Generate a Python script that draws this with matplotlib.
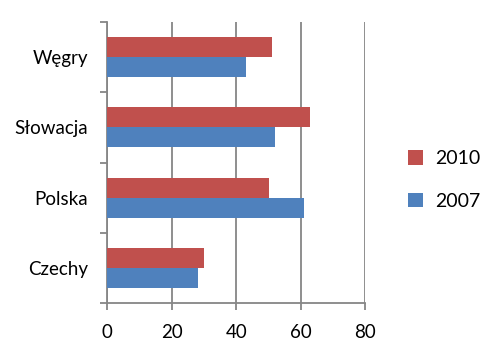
import matplotlib
matplotlib.use("Agg")
import matplotlib.pyplot as plt
import numpy as np

categories = ["Czechy", "Polska", "Słowacja", "Węgry"]
values_2007 = [28, 61, 52, 43]
values_2010 = [30, 50, 63, 51]
xticks = [0, 20, 40, 60, 80]

RED = "#C0504D"
BLUE = "#4F81BD"
GRID = "#868686"

plt.rcParams['font.family'] = ['Lato', 'DejaVu Sans']

fig = plt.figure(figsize=(4.89, 3.55), dpi=100)
W, H = 489, 355
left, right, top, bottom = 107.3, 365.3, 21.7, 303.3
ax = fig.add_axes([left / W, 1 - bottom / H, (right - left) / W, (bottom - top) / H])

y = np.arange(len(categories))
h = 0.282
ax.barh(y + h / 2, values_2010, height=h, color=RED, label="2010", zorder=3)
ax.barh(y - h / 2, values_2007, height=h, color=BLUE, label="2007", zorder=3)

ax.set_xlim(0, 80)
ax.set_ylim(-0.5, len(categories) - 0.5)
ax.set_xticks(xticks)
ax.set_xticklabels([str(t) for t in xticks])
ax.set_yticks(y)
ax.set_yticklabels(categories)
ax.set_yticks(np.arange(-0.5, len(categories), 1.0), minor=True)

ax.grid(axis="x", color=GRID, linewidth=1.3, zorder=0)
ax.grid(axis="y", visible=False)
for s in ["top", "right"]:
    ax.spines[s].set_visible(False)
for s in ["left", "bottom"]:
    ax.spines[s].set_color(GRID)
    ax.spines[s].set_linewidth(1.3)

ax.tick_params(axis="x", direction="out", length=5, width=1.3, color=GRID, labelsize=13.5, pad=10, labelcolor="black")
ax.tick_params(axis="y", which="major", length=0, labelsize=13.5, pad=14, labelcolor="black")
ax.tick_params(axis="y", which="minor", direction="out", length=5, width=1.3, color=GRID)

handles, labels = ax.get_legend_handles_labels()
fig.legend(handles, labels, loc="center left", bbox_to_anchor=(391 / W, 1 - 180 / H),
           frameon=False, fontsize=14, handlelength=0.75, handleheight=0.75,
           handletextpad=0.6, labelspacing=1.3)

fig.savefig("out.png", dpi=100)
